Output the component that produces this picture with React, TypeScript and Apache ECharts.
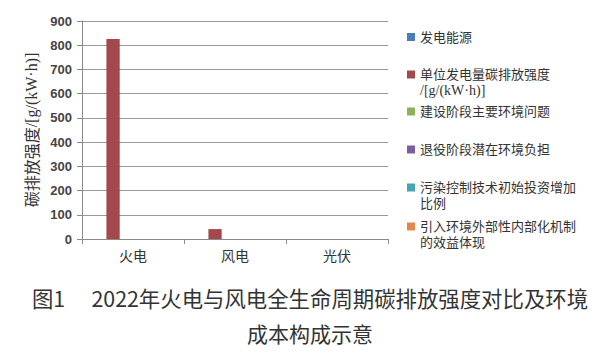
import React, { useEffect, useRef } from "react";
import * as echarts from "echarts";

const categories = ["火电", "风电", "光伏"];
const seriesNames = [
  "发电能源",
  "单位发电量碳排放强度/[g/(kW·h)]",
  "建设阶段主要环境问题",
  "退役阶段潜在环境负担",
  "污染控制技术初始投资增加比例",
  "引入环境外部性内部化机制的效益体现",
];
const powerSource: (number | null)[] = [null, null, null];
const carbonIntensity: (number | null)[] = [826, 41, null];
const constructionIssues: (number | null)[] = [null, null, null];
const retirementBurden: (number | null)[] = [null, null, null];
const pollutionControlShare: (number | null)[] = [null, null, null];
const externalityBenefit: (number | null)[] = [null, null, null];
const yTicks = { min: 0, max: 900, interval: 100 };
const legendLines: string[][] = [
  ["发电能源"],
  ["单位发电量碳排放强度", "/[g/(kW·h)]"],
  ["建设阶段主要环境问题"],
  ["退役阶段潜在环境负担"],
  ["污染控制技术初始投资增加", "比例"],
  ["引入环境外部性内部化机制", "的效益体现"],
];
const captionLine1 = "图1\u3000 2022年火电与风电全生命周期碳排放强度对比及环境";
const captionLine2 = "成本构成示意";

const colors = ["#4A7EBB", "#A3494D", "#8DB05A", "#7A5F9E", "#4BA3B8", "#E4874D"];
const legendCenters = [38.5, 76, 113, 151, 189, 228];

export default function App() {
  const ref = useRef<HTMLDivElement>(null);
  useEffect(() => {
    if (!ref.current) return;
    const chart = echarts.init(ref.current, null, { renderer: "svg" });
    const dataSets = [
      powerSource,
      carbonIntensity,
      constructionIssues,
      retirementBurden,
      pollutionControlShare,
      externalityBenefit,
    ];
    const LH = 16;
    const legends = seriesNames.map((name, i) => {
      const lines = legendLines[i];
      const multi = lines.length > 1;
      return {
        show: true,
        orient: "vertical",
        left: 407,
        top: legendCenters[i] - (multi ? LH * 1.5 : LH / 2),
        padding: 0,
        itemWidth: 8,
        itemHeight: 8,
        icon: "rect",
        data: [name],
        selectedMode: false,
        formatter: () => {
          const parts = lines.map((l) => (l.startsWith("/") ? `{s|${l}}` : `{a|${l}}`));
          return multi ? ["{a| }", ...parts].join("\n") : parts.join("\n");
        },
        textStyle: {
          rich: {
            a: {
              fontFamily: "Liberation Sans, Noto Sans CJK SC",
              fontSize: 13,
              color: "#333",
              lineHeight: LH,
            },
            s: {
              fontFamily: "Liberation Serif",
              fontSize: 14,
              color: "#333",
              lineHeight: LH,
            },
          },
        },
      };
    });
    chart.setOption({
      animation: false,
      color: colors,
      grid: { left: 82, right: 223, top: 21, bottom: 120, containLabel: false },
      legend: legends,
      xAxis: {
        type: "category",
        data: categories,
        axisLine: { lineStyle: { color: "#8a8a8a" } },
        axisTick: { show: true, length: 5, lineStyle: { color: "#8a8a8a" } },
        axisLabel: { fontFamily: "Noto Sans CJK SC", fontSize: 14, color: "#333", margin: 9 },
      },
      yAxis: {
        type: "value",
        min: yTicks.min,
        max: yTicks.max,
        interval: yTicks.interval,
        name: "{c|碳排放强度}{s|/[g/(kW·h)]}",
        nameLocation: "middle",
        nameGap: 40,
        nameTextStyle: {
          rich: {
            c: { fontFamily: "Noto Sans CJK SC", fontSize: 16, color: "#333" },
            s: { fontFamily: "Liberation Serif", fontSize: 16, color: "#333" },
          },
        },
        axisLine: { show: true, lineStyle: { color: "#8a8a8a" } },
        axisTick: { show: true, length: 5, lineStyle: { color: "#8a8a8a" } },
        splitLine: { show: true, lineStyle: { color: "#999" } },
        axisLabel: {
          fontFamily: "Liberation Sans",
          fontWeight: "bold",
          fontSize: 13,
          color: "#444",
          margin: 10,
        },
      },
      series: seriesNames.map((name, i) => ({
        name,
        type: "bar",
        data: dataSets[i],
        barWidth: 13.3,
        barGap: "0%",
      })),
      graphic: [
        {
          type: "text",
          x: 310,
          y: 297,
          style: {
            text: captionLine1,
            fontFamily: "Noto Sans CJK SC",
            fontSize: 21.4,
            fill: "#333",
            align: "center",
            verticalAlign: "middle",
          },
        },
        {
          type: "text",
          x: 310,
          y: 333,
          style: {
            text: captionLine2,
            fontFamily: "Noto Sans CJK SC",
            fontSize: 21,
            fill: "#333",
            align: "center",
            verticalAlign: "middle",
          },
        },
      ],
    });
    return () => chart.dispose();
  }, []);
  return (
    <div
      ref={ref}
      style={{ position: "fixed", left: 0, top: 0, width: 611, height: 359, background: "#fff" }}
    />
  );
}
